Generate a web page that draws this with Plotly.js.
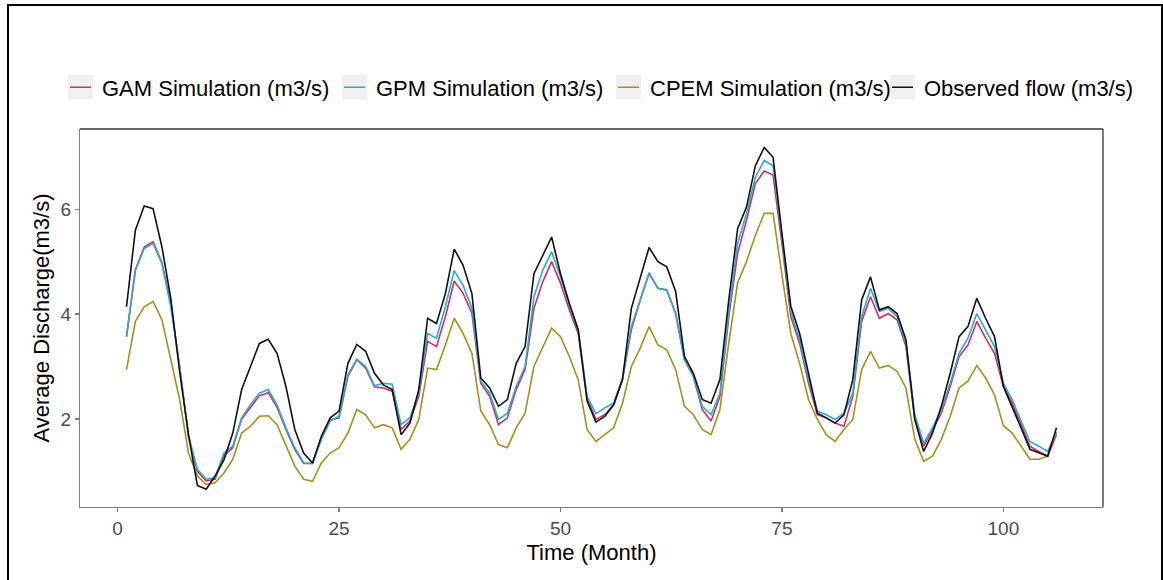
<!DOCTYPE html>
<html>
<head>
<meta charset="utf-8">
<script src="https://cdn.plot.ly/plotly-3.0.1.min.js"></script>
<style>
  html, body { margin: 0; padding: 0; background: #fff; overflow: hidden; }
  #wrap { position: relative; width: 1163px; height: 580px; overflow: hidden; }
  #chart { width: 1163px; height: 580px; }
  #frame { position: absolute; left: 7px; top: 4px; width: 1152px; height: 640px;
           border: 2px solid #000; pointer-events: none; }
</style>
</head>
<body>
<div id="wrap"><div id="chart"></div><div id="frame"></div></div>
<script>
// Months 1..106
const months = Array.from({length: 106}, (_, i) => i + 1);

const gamSim = [3.57,4.84,5.28,5.38,4.98,4.20,3.00,1.67,1.00,0.82,0.85,1.30,1.45,2.00,2.22,2.44,2.50,2.22,1.80,1.42,
1.15,1.15,1.63,1.98,2.02,2.81,3.13,2.97,2.61,2.59,2.53,1.80,1.96,2.43,3.48,3.38,3.95,4.63,4.40,4.01,
2.68,2.43,1.89,2.02,2.56,2.94,4.11,4.62,5.00,4.59,4.08,3.63,2.40,1.99,2.08,2.27,2.75,3.70,4.27,4.77,
4.49,4.46,4.01,3.13,2.81,2.18,1.96,2.43,3.95,5.16,5.79,6.49,6.73,6.65,5.35,3.95,3.44,2.68,2.08,2.02,
1.92,1.86,2.43,3.86,4.33,3.92,4.01,3.89,3.38,1.99,1.48,1.80,2.11,2.62,3.19,3.41,3.86,3.54,3.25,2.62,
2.30,1.89,1.48,1.38,1.29,1.70];

const gpmSim = [3.57,4.84,5.25,5.35,4.96,4.14,3.00,1.67,1.04,0.85,0.88,1.35,1.48,2.02,2.27,2.49,2.56,2.27,1.83,1.45,
1.16,1.15,1.61,1.96,2.05,2.84,3.14,3.00,2.63,2.68,2.66,1.89,2.02,2.49,3.63,3.54,4.14,4.83,4.55,4.11,
2.72,2.49,1.99,2.11,2.62,3.00,4.33,4.84,5.19,4.71,4.17,3.70,2.43,2.10,2.21,2.30,2.78,3.76,4.27,4.79,
4.49,4.46,4.01,3.13,2.81,2.24,2.08,2.49,4.01,5.35,5.92,6.61,6.93,6.83,5.47,4.05,3.51,2.75,2.15,2.08,
1.99,2.11,2.49,3.95,4.49,4.05,4.11,3.95,3.44,2.08,1.54,1.83,2.18,2.68,3.25,3.54,4.01,3.70,3.38,2.68,
2.37,1.96,1.57,1.48,1.38,1.73];

const cpemSim = [2.94,3.86,4.14,4.24,3.89,3.13,2.37,1.35,0.91,0.75,0.78,0.97,1.23,1.73,1.86,2.05,2.06,1.89,1.48,1.10,
0.85,0.81,1.16,1.35,1.45,1.73,2.18,2.08,1.83,1.89,1.83,1.42,1.61,1.99,2.97,2.94,3.41,3.92,3.63,3.25,
2.15,1.89,1.51,1.45,1.83,2.11,3.00,3.35,3.73,3.57,3.19,2.75,1.80,1.57,1.70,1.83,2.30,3.00,3.35,3.76,
3.41,3.32,2.94,2.24,2.08,1.80,1.70,2.18,3.45,4.60,5.00,5.50,5.92,5.92,4.75,3.63,3.06,2.37,1.99,1.70,
1.57,1.80,1.99,2.94,3.29,2.97,3.02,2.91,2.59,1.61,1.19,1.29,1.61,2.05,2.59,2.72,3.02,2.78,2.46,1.87,
1.73,1.48,1.23,1.23,1.29,1.75];

const observed = [4.14,5.60,6.06,6.01,5.28,4.30,2.90,1.70,0.73,0.66,0.91,1.22,1.73,2.56,3.00,3.44,3.52,3.25,2.62,1.80,
1.35,1.16,1.67,2.02,2.15,3.06,3.42,3.29,2.87,2.65,2.56,1.70,1.92,2.56,3.92,3.82,4.39,5.24,4.93,4.39,
2.78,2.59,2.24,2.37,3.06,3.38,4.77,5.12,5.47,4.77,4.20,3.70,2.34,1.94,2.05,2.27,2.75,4.11,4.71,5.27,
5.00,4.90,4.43,3.19,2.87,2.37,2.30,2.75,4.27,5.63,6.04,6.83,7.18,6.99,5.54,4.15,3.63,2.84,2.11,2.02,
1.92,2.08,2.75,4.27,4.71,4.08,4.14,4.01,3.51,1.99,1.38,1.73,2.24,2.87,3.57,3.76,4.30,3.92,3.57,2.62,
2.24,1.83,1.42,1.35,1.29,1.83];

const seriesNames = ["GAM Simulation (m3/s)", "GPM Simulation (m3/s)", "CPEM Simulation (m3/s)", "Observed flow (m3/s)"];
const xTickVals = [0, 25, 50, 75, 100];
const yTickVals = [2, 4, 6];

const FONT = "Liberation Sans, Arial, sans-serif";

function tr(y, name, color, rank) {
  return { x: months, y: y, name: name, type: "scatter", mode: "lines",
           line: { color: color, width: 1.6 }, legendrank: rank, hoverinfo: "x+y+name" };
}

const data = [
  tr(cpemSim, seriesNames[2], "#a98e1f", 3),
  tr(gamSim, seriesNames[0], "#d0305f", 1),
  tr(gpmSim, seriesNames[1], "#2aa8d8", 2),
  tr(observed, seriesNames[3], "#111111", 4)
];

const layout = {
  width: 1163, height: 580,
  margin: { l: 80, r: 60, t: 129, b: 73 },
  paper_bgcolor: "#ffffff", plot_bgcolor: "#ffffff",
  font: { family: FONT, color: "#000" },
  showlegend: true,
  legend: {
    orientation: "h", x: -0.0176, xanchor: "left", y: 1.11, yanchor: "middle",
    font: { size: 22, family: FONT, color: "#000" },
    itemwidth: 30, entrywidth: 229, entrywidthmode: "pixels",
    bgcolor: "rgba(0,0,0,0)", borderwidth: 0
  },
  xaxis: {
    range: [-4.25, 111.25], tickvals: xTickVals, ticktext: xTickVals.map(String),
    showgrid: false, zeroline: false, showline: true, linecolor: "#7f7f7f", linewidth: 1.2,
    ticks: "outside", ticklen: 4, tickcolor: "#7f7f7f", tickwidth: 1.2,
    tickfont: { size: 19, color: "#4d4d4d", family: FONT },
    title: { text: "Time (Month)", font: { size: 22, color: "#000", family: FONT }, standoff: 6 },
    automargin: false
  },
  yaxis: {
    range: [0.32, 7.53], tickvals: yTickVals, ticktext: yTickVals.map(String),
    showgrid: false, zeroline: false, showline: true, linecolor: "#7f7f7f", linewidth: 1.2,
    ticks: "outside", ticklen: 4, tickcolor: "#7f7f7f", tickwidth: 1.2,
    tickfont: { size: 19, color: "#4d4d4d", family: FONT },
    title: { text: "Average Discharge(m3/s)", font: { size: 22, color: "#000", family: FONT }, standoff: 4 },
    automargin: false
  },
  shapes: [
    { type: "line", xref: "paper", yref: "paper", x0: 0, x1: 1, y0: 1, y1: 1, line: { color: "#333", width: 1.3 } },
    { type: "line", xref: "paper", yref: "paper", x0: 1, x1: 1, y0: 0, y1: 1, line: { color: "#333", width: 1.3 } }
  ]
};

Plotly.newPlot("chart", data, layout, { displayModeBar: false, staticPlot: true }).then(function () {
  // grey key boxes behind legend lines, like the original
  const ns = "http://www.w3.org/2000/svg";
  document.querySelectorAll("#chart .legend .traces").forEach(function (g) {
    const lines = g.querySelector(".legendlines");
    if (!lines) return;
    const path = lines.querySelector("path");
    if (path) path.setAttribute("d", "M8,0h21");
    const rect = document.createElementNS(ns, "rect");
    rect.setAttribute("x", 6); rect.setAttribute("y", -12.5);
    rect.setAttribute("width", 25); rect.setAttribute("height", 25);
    rect.setAttribute("fill", "#f0f0f0");
    g.insertBefore(rect, g.firstChild);
  });
});
</script>
</body>
</html>
